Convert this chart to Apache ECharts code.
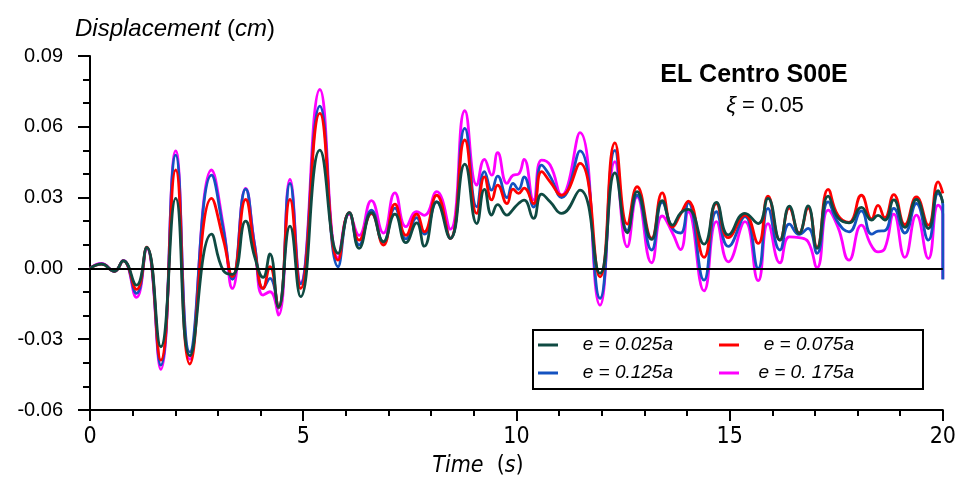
<!DOCTYPE html>
<html>
<head>
<meta charset="utf-8">
<script src="https://cdn.jsdelivr.net/npm/echarts@6/dist/echarts.min.js"></script>
<style>
html,body{margin:0;padding:0;background:#fff;}
#chart{width:959px;height:486px;}
</style>
</head>
<body>
<div id="chart"></div>
<script>
// time (s)
var times = [0.00,0.27,0.57,0.78,1.09,1.33,1.66,2.01,2.34,2.85,3.13,3.34,3.65,3.86,4.06,4.22,4.42,4.69,4.94,5.39,
 5.82,6.08,6.31,6.60,6.88,7.15,7.41,7.66,7.84,8.13,8.45,8.79,9.07,9.25,9.42,9.56,9.78,9.92,10.05,10.18,
 10.40,10.59,10.79,11.06,11.49,11.96,12.31,12.60,12.83,13.17,13.42,13.66,13.85,14.03,14.40,14.69,14.97,15.36,15.67,15.90,
 16.18,16.40,16.63,16.84,17.05,17.31,17.54,17.80,18.09,18.33,18.48,18.64,18.85,19.11,19.38,19.66,19.89,20.00,20.00];
// e = 0.025a
var e025 = [0,0.0018,-0.0012,0.0032,-0.0071,0.0089,-0.0332,0.0297,-0.0370,0.0145,-0.0010,-0.0025,0.0200,0.0050,-0.0038,0.0061,-0.0163,0.0179,-0.0120,0.0501,
 0.0064,0.0236,0.0085,0.0236,0.0113,0.0230,0.0109,0.0193,0.0094,0.0282,0.0127,0.0442,0.0190,0.0335,0.0226,0.0270,0.0226,0.0250,0.0275,0.0289,
 0.0212,0.0315,0.0282,0.0233,0.0332,-0.0021,0.0405,0.0151,0.0325,0.0123,0.0287,0.0183,0.0235,0.0250,0.0103,0.0280,0.0142,0.0233,0.0190,0.0297,
 0.0120,0.0264,0.0148,0.0265,0.0085,0.0306,0.0215,0.0193,0.0259,0.0205,0.0225,0.0205,0.0290,0.0174,0.0292,0.0169,0.0329,0.0277,0.0277];
// e = 0.075a
var e075 = [0,0.0018,-0.0012,0.0032,-0.0089,0.0090,-0.0389,0.0417,-0.0405,0.0297,0.0120,-0.0035,0.0292,0.0080,-0.0085,0.0007,-0.0165,0.0292,-0.0085,0.0657,
 0.0035,0.0236,0.0120,0.0232,0.0099,0.0272,0.0140,0.0230,0.0155,0.0310,0.0127,0.0544,0.0233,0.0388,0.0290,0.0353,0.0275,0.0336,0.0318,0.0340,
 0.0275,0.0410,0.0367,0.0310,0.0445,-0.0036,0.0532,0.0188,0.0346,0.0128,0.0320,0.0175,0.0230,0.0285,0.0047,0.0275,0.0130,0.0226,0.0106,0.0306,
 0.0120,0.0255,0.0150,0.0255,0.0090,0.0335,0.0225,0.0195,0.0310,0.0210,0.0267,0.0215,0.0313,0.0185,0.0303,0.0183,0.0367,0.0318,0.0318];
// e = 0.125a
var e125 = [0,0.0019,-0.0012,0.0033,-0.0106,0.0088,-0.0410,0.0480,-0.0355,0.0395,0.0162,-0.0046,0.0336,0.0100,-0.0085,-0.0042,-0.0168,0.0360,-0.0065,0.0688,
 0.0007,0.0236,0.0100,0.0247,0.0110,0.0255,0.0125,0.0215,0.0145,0.0282,0.0127,0.0593,0.0261,0.0410,0.0332,0.0391,0.0300,0.0360,0.0335,0.0388,
 0.0260,0.0438,0.0390,0.0300,0.0498,-0.0127,0.0500,0.0160,0.0310,0.0078,0.0280,0.0170,0.0150,0.0278,-0.0050,0.0240,0.0093,0.0220,0.0000,0.0254,
 0.0078,0.0188,0.0144,0.0170,0.0064,0.0282,0.0195,0.0155,0.0244,0.0145,0.0158,0.0160,0.0254,0.0150,0.0275,0.0120,0.0318,0.0270,-0.0047];
// e = 0.175a
var e175 = [0,0.0021,-0.0012,0.0034,-0.0123,0.0085,-0.0428,0.0498,-0.0385,0.0417,0.0176,-0.0085,0.0339,0.0100,-0.0113,-0.0099,-0.0198,0.0377,-0.0060,0.0758,
 0.0045,0.0230,0.0140,0.0287,0.0150,0.0320,0.0177,0.0240,0.0225,0.0325,0.0166,0.0668,0.0353,0.0462,0.0395,0.0490,0.0360,0.0395,0.0400,0.0462,
 0.0290,0.0459,0.0438,0.0310,0.0575,-0.0156,0.0452,0.0092,0.0303,0.0024,0.0222,0.0150,0.0080,0.0240,-0.0095,0.0198,0.0028,0.0198,-0.0052,0.0190,
 0.0024,0.0134,0.0130,0.0113,0.0003,0.0247,0.0175,0.0035,0.0183,0.0095,0.0070,0.0085,0.0230,0.0047,0.0226,0.0042,0.0268,0.0230,-0.0045];

var names = ['e = 0.025a','e = 0.075a','e = 0.125a','e = 0. 175a'];
var xTicks = [0,5,10,15,20];

function pairs(v){ return times.map(function(t,i){ return [t, v[i]]; }); }

var FONT = "'Liberation Sans', Arial, sans-serif";
var NARROW = "'Liberation Sans Narrow', 'Arial Narrow', 'DejaVu Sans Condensed', sans-serif";

var chart = echarts.init(document.getElementById('chart'));
function mk(name, v, color, extra){
  var s = {name:name, type:'line', data:pairs(v), smooth:0.5, symbol:'none', showSymbol:false,
    lineStyle:{color:color, width:2.8}, itemStyle:{color:color}, silent:true};
  if (extra) for (var k in extra) s[k]=extra[k];
  return s;
}
chart.setOption({
  animation:false,
  backgroundColor:'#fff',
  title:[
    {text:'EL Centro S00E', left:749, top:58, textAlign:'center',
     textStyle:{fontFamily:FONT, fontSize:25, fontWeight:'bold', color:'#000'}},
    {text:'{i|ξ} = 0.05', left:760, top:90, textAlign:'center',
     textStyle:{fontFamily:FONT, fontSize:22, fontWeight:'normal', color:'#000',
       rich:{i:{fontFamily:FONT, fontSize:22, fontStyle:'italic', color:'#000'}}}}
  ],
  legend:{
    data:names, left:533, top:330, width:370, orient:'horizontal',
    padding:[5,31,6,5], itemGap:8, itemWidth:20, itemHeight:3, icon:'rect',
    borderColor:'#000', borderWidth:2, backgroundColor:'#fff',
    formatter:function(n){ return '{t|' + n + '}'; },
    textStyle:{fontFamily:FONT, fontSize:19, fontStyle:'italic', color:'#000', lineHeight:20, padding:[0,38,0,0],
      rich:{t:{width:110, align:'right', fontFamily:FONT, fontSize:19, fontStyle:'italic', color:'#000', lineHeight:20}}}
  },
  grid:{left:90, right:16, top:56, bottom:76},
  xAxis:{
    type:'value', min:0, max:20, interval:5,
    name:'{i|Time}  {n|(}{i|s}{n|)}', nameLocation:'middle', nameGap:45,
    nameTextStyle:{padding:[0,77,0,0], fontFamily:NARROW, fontSize:23, color:'#000',
      rich:{i:{fontFamily:NARROW, fontSize:23, fontStyle:'italic', color:'#000'}, n:{fontFamily:NARROW, fontSize:23, color:'#000'}}},
    axisLine:{show:true, onZero:false, lineStyle:{color:'#000', width:2}},
    axisTick:{show:true, length:11, lineStyle:{color:'#000', width:2}},
    minorTick:{show:true, splitNumber:5, length:6, lineStyle:{color:'#000', width:2}},
    axisLabel:{margin:16, fontFamily:NARROW, fontSize:23, color:'#000',
      formatter:function(v){ return xTicks.indexOf(v)>=0 ? String(v) : ''; }},
    splitLine:{show:false}
  },
  yAxis:{
    type:'value', min:-0.06, max:0.09, interval:0.03,
    name:'{i|Displacement} {n|(}{i|cm}{n|)}', nameLocation:'end', nameGap:15,
    nameTextStyle:{align:'left', padding:[0,0,0,-15], fontFamily:FONT, fontSize:24, color:'#000',
      rich:{i:{fontFamily:FONT, fontSize:24, fontStyle:'italic', color:'#000'}, n:{fontFamily:FONT, fontSize:24, color:'#000'}}},
    axisLine:{show:true, onZero:false, lineStyle:{color:'#000', width:2}},
    axisTick:{show:true, length:12, lineStyle:{color:'#000', width:2}},
    minorTick:{show:true, splitNumber:3, length:7, lineStyle:{color:'#000', width:2}},
    axisLabel:{margin:27, fontFamily:FONT, fontSize:20, color:'#000',
      formatter:function(v){ if (Math.abs(v)<1e-9) return '0.00'; return v.toFixed(2); }},
    splitLine:{show:false}
  },
  series:[
    mk(names[3], e175, '#ff00ff', {markLine:{silent:true, symbol:'none', label:{show:false},
      lineStyle:{color:'#000', width:2, type:'solid'}, data:[{yAxis:0}]}}),
    mk(names[2], e125, '#1452c0'),
    mk(names[1], e075, '#ff0000'),
    mk(names[0], e025, '#0f4a42')
  ]
});
</script>
</body>
</html>
